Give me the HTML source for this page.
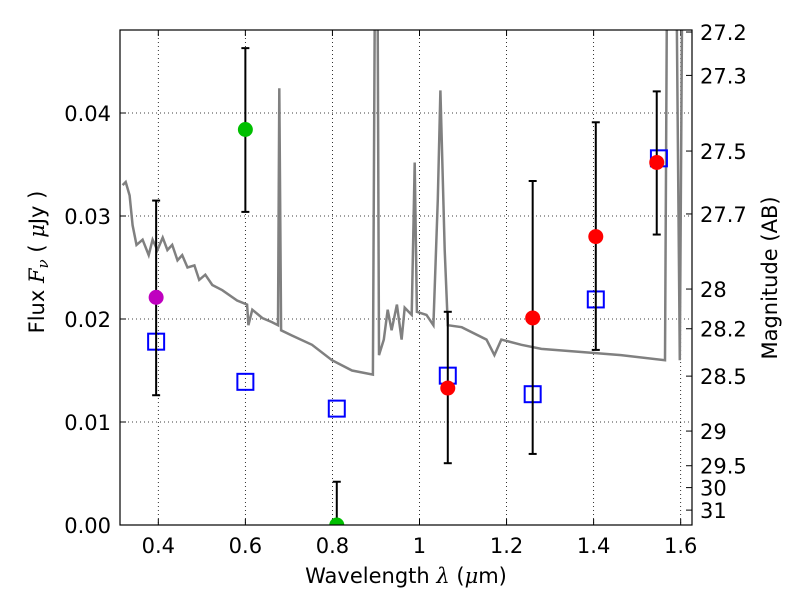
<!DOCTYPE html>
<html><head><meta charset="utf-8"><style>
body{margin:0;background:#fff;}
svg{font-family:"DejaVu Sans","Liberation Sans",sans-serif;}
</style></head><body>
<svg id="chart" width="800" height="600" xmlns="http://www.w3.org/2000/svg"></svg>
<script>
const xTicks=[0.4,0.6,0.8,1.0,1.2,1.4,1.6];
const xTickLabels=["0.4","0.6","0.8","1","1.2","1.4","1.6"];
const yTicks=[0,0.01,0.02,0.03,0.04];
const yTickLabels=["0.00","0.01","0.02","0.03","0.04"];
const magTicks=[27.2,27.3,27.5,27.7,28,28.2,28.5,29,29.5,30,31];
const specLam=[0.318,0.325,0.334,0.341,0.350,0.364,0.378,0.387,0.398,0.410,0.421,0.432,0.444,0.455,0.467,0.483,0.494,0.508,0.524,0.547,0.581,0.604,0.607,0.616,0.639,0.661,0.675,0.678,0.682,0.707,0.753,0.799,0.845,0.893,0.897,0.904,0.907,0.918,0.927,0.936,0.948,0.959,0.966,0.982,0.989,0.994,1.016,1.032,1.042,1.048,1.058,1.065,1.097,1.154,1.172,1.188,1.234,1.280,1.372,1.463,1.564,1.568,1.577,1.591,1.598,1.603,1.628];
const specFlux=[0.0330,0.0333,0.0320,0.0291,0.0272,0.0277,0.0262,0.0277,0.0267,0.0279,0.0267,0.0272,0.0257,0.0262,0.0250,0.0252,0.0238,0.0243,0.0233,0.0228,0.0218,0.0214,0.0194,0.0209,0.0201,0.0197,0.0194,0.0424,0.0189,0.0184,0.0175,0.0160,0.0150,0.0146,0.049,0.049,0.0165,0.0180,0.0209,0.0189,0.0214,0.0180,0.0211,0.0204,0.0352,0.0207,0.0204,0.0194,0.0316,0.0422,0.0267,0.0194,0.0192,0.0180,0.0165,0.0180,0.0175,0.0171,0.0168,0.0165,0.0160,0.049,0.049,0.049,0.0160,0.049,0.049];
const obsLam=[0.395,0.6,0.81,1.065,1.26,1.405,1.545];
const obsFlux=[0.0221,0.0384,0.0,0.0133,0.0201,0.0280,0.0352];
const errLo=[0.0126,0.0304,0,0.0060,0.0069,0.0170,0.0282];
const errHi=[0.0315,0.0463,0.0042,0.0207,0.0334,0.0391,0.0421];
const obsColor=["#bf00bf","#00bf00","#00bf00","#ff0000","#ff0000","#ff0000","#ff0000"];
const modLam=[0.395,0.6,0.81,1.065,1.26,1.405,1.55];
const modFlux=[0.0178,0.0139,0.0113,0.0145,0.0127,0.0219,0.0356];

const L=120,R=692,T=30,B=525,X0=0.312,X1=1.626,Y0=0,Y1=0.04806;
const sx=v=>L+(v-X0)/(X1-X0)*(R-L);
const sy=v=>B-(v-Y0)/(Y1-Y0)*(B-T);
const svg=document.getElementById('chart');
const NS="http://www.w3.org/2000/svg";
function mk(tag,attrs,parent){const e=document.createElementNS(NS,tag);for(const k in attrs)e.setAttribute(k,attrs[k]);(parent||svg).appendChild(e);return e;}
const defs=mk('defs',{});const cp=mk('clipPath',{id:'clip'},defs);mk('rect',{x:L,y:T,width:R-L,height:B-T},cp);
xTicks.forEach((v,i)=>{const x=sx(v);
 const g=mk('line',{x1:x,x2:x,y1:T,y2:B,stroke:'#000','stroke-dasharray':'1,3','stroke-width':0.8});
 
 mk('line',{x1:x,x2:x,y1:B,y2:B-6,stroke:'#000'});mk('line',{x1:x,x2:x,y1:T,y2:T+6,stroke:'#000'});
 const t=mk('text',{x:x,y:B+28,'text-anchor':'middle','font-size':21});t.textContent=xTickLabels[i];
 });
yTicks.forEach((v,i)=>{const y=sy(v);
 const g=mk('line',{x1:L,x2:R,y1:y,y2:y,stroke:'#000','stroke-dasharray':'1,3','stroke-width':0.8});
 
 mk('line',{x1:L,x2:L+6,y1:y,y2:y,stroke:'#000'});
 const t=mk('text',{x:L-9,y:y+8,'text-anchor':'end','font-size':21});t.textContent=yTickLabels[i];
 });
magTicks.forEach(m=>{const f=Math.pow(10,(23.9-m)/2.5);const y=sy(f);
 mk('line',{x1:R,x2:R-6,y1:y,y2:y,stroke:'#000'});
 const t=mk('text',{x:R+8,y:y+8,'font-size':21});t.textContent=String(m);
 });
const pts=specLam.map((l,i)=>sx(l).toFixed(1)+','+sy(specFlux[i]).toFixed(1)).join(' ');
const sp=mk('polyline',{points:pts,fill:'none',stroke:'#808080','stroke-width':2.5,'clip-path':'url(#clip)'});

modLam.forEach((l,i)=>{const r=mk('rect',{x:sx(l)-8,y:sy(modFlux[i])-8,width:16,height:16,fill:'none',stroke:'#0000ff','stroke-width':2});
 });
obsLam.forEach((l,i)=>{const x=sx(l);
 const e=mk('g',{stroke:'#000','stroke-width':2});
 
 mk('line',{x1:x,x2:x,y1:sy(errLo[i]),y2:sy(errHi[i])},e);
 if(errLo[i]>0)mk('line',{x1:x-4,x2:x+4,y1:sy(errLo[i]),y2:sy(errLo[i])},e);
 mk('line',{x1:x-4,x2:x+4,y1:sy(errHi[i]),y2:sy(errHi[i])},e);
 const c=mk('circle',{cx:x,cy:sy(obsFlux[i]),r:7.5,fill:obsColor[i],'clip-path':'url(#clip)'});
 });
const fr=mk('rect',{x:L,y:T,width:R-L,height:B-T,fill:'none',stroke:'#000','stroke-width':1.2});

</script>
<svg style="position:absolute;left:0;top:0" width="800" height="600">
<text x="406" y="583" text-anchor="middle" font-size="21" font-family="DejaVu Sans, sans-serif">Wavelength  <tspan font-style="italic" font-family="DejaVu Serif, serif">λ</tspan> (<tspan font-style="italic" font-family="DejaVu Serif, serif">μ</tspan>m)</text>
<text transform="translate(44,262) rotate(-90)" text-anchor="middle" font-size="21" font-family="DejaVu Sans, sans-serif">Flux  <tspan font-style="italic" font-family="DejaVu Serif, serif">F<tspan font-size="15" dy="4">ν</tspan></tspan><tspan dy="-4">  ( </tspan><tspan font-style="italic" font-family="DejaVu Serif, serif">μ</tspan>Jy )</text>
<text transform="translate(777,278) rotate(-90)" text-anchor="middle" font-size="21" font-family="DejaVu Sans, sans-serif">Magnitude (AB)</text>
</svg>
</body></html>
